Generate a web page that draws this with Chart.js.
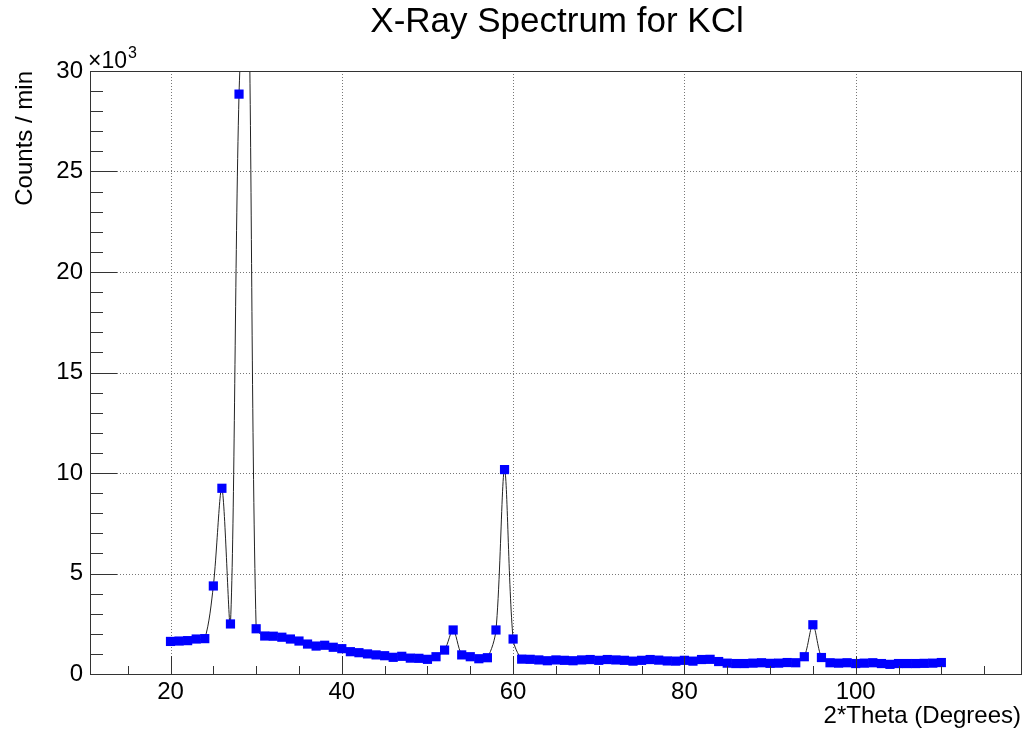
<!DOCTYPE html>
<html>
<head>
<meta charset="utf-8">
<script src="https://cdn.jsdelivr.net/npm/chart.js@4"></script>
<style>
  body { margin: 0; background: #fff; }
  #wrap { width: 1035px; height: 729px; }
</style>
</head>
<body>
<div id="wrap"><canvas id="xrd_chart"></canvas></div>
<script>
// 2*theta angle (degrees)
const twoTheta = [
  20, 21, 22, 23, 24, 25, 26, 27, 28, 29,
  30, 31, 32, 33, 34, 35, 36, 37, 38, 39,
  40, 41, 42, 43, 44, 45, 46, 47, 48, 49,
  50, 51, 52, 53, 54, 55, 56, 57, 58, 59,
  60, 61, 62, 63, 64, 65, 66, 67, 68, 69,
  70, 71, 72, 73, 74, 75, 76, 77, 78, 79,
  80, 81, 82, 83, 84, 85, 86, 87, 88, 89,
  90, 91, 92, 93, 94, 95, 96, 97, 98, 99,
  100, 101, 102, 103, 104, 105, 106, 107, 108, 109,
  110
];
// counts per minute (29 is off the top of the plot)
const counts = [
  1620, 1640, 1660, 1740, 1760, 4380, 9240, 2490, 28850, 36000,
  2250, 1890, 1880, 1830, 1740, 1640, 1490, 1390, 1430, 1330,
  1260, 1110, 1060, 1000, 950, 910, 830, 880, 790, 780,
  730, 860, 1190, 2190, 950, 860, 760, 810, 2190, 10170,
  1740, 740, 730, 700, 660, 700, 680, 660, 700, 720,
  680, 720, 700, 680, 640, 680, 720, 690, 650, 640,
  680, 640, 720, 730, 620, 540, 520, 520, 540, 560,
  530, 540, 570, 560, 860, 2450, 820, 560, 540, 560,
  520, 540, 560, 520, 480, 520, 520, 520, 530, 540,
  570
];
const xTicks = [20, 40, 60, 80, 100];
const yTicks = [0, 5000, 10000, 15000, 20000, 25000, 30000];

const FONT = "'Liberation Sans', Arial, Helvetica, sans-serif";

// ROOT-like frame, dotted grid, inner ticks and titles
const rootFrame = {
  id: 'rootFrame',
  beforeDatasetsDraw(chart) {
    const { ctx, chartArea: a, scales } = chart;
    ctx.save();
    ctx.strokeStyle = '#777';
    ctx.lineWidth = 1;
    ctx.setLineDash([1, 2]);
    xTicks.forEach(v => {
      const x = Math.round(scales.x.getPixelForValue(v)) + 0.5;
      ctx.beginPath(); ctx.moveTo(x, a.top); ctx.lineTo(x, a.bottom); ctx.stroke();
    });
    yTicks.slice(1, -1).forEach(v => {
      const y = Math.round(scales.y.getPixelForValue(v)) + 0.5;
      ctx.beginPath(); ctx.moveTo(a.left, y); ctx.lineTo(a.right, y); ctx.stroke();
    });
    ctx.restore();
  },
  afterDatasetsDraw(chart) {
    const { ctx, chartArea: a, scales } = chart;
    ctx.save();
    ctx.strokeStyle = '#333';
    ctx.lineWidth = 1;
    ctx.strokeRect(Math.round(a.left) + 0.5, Math.round(a.top) + 0.5,
      Math.round(a.right - a.left), Math.round(a.bottom - a.top));

    // y ticks every 1000, long ones every 5000
    for (let v = 0; v <= 30000; v += 1000) {
      const y = Math.round(scales.y.getPixelForValue(v)) + 0.5;
      const len = v % 5000 === 0 ? 27 : 13;
      ctx.beginPath(); ctx.moveTo(a.left, y); ctx.lineTo(a.left + len, y); ctx.stroke();
    }
    // x ticks every 5, long ones every 20
    for (let v = 15; v <= 115; v += 5) {
      const x = Math.round(scales.x.getPixelForValue(v)) + 0.5;
      const len = v % 20 === 0 ? 18 : 8;
      ctx.beginPath(); ctx.moveTo(x, a.bottom); ctx.lineTo(x, a.bottom - len); ctx.stroke();
    }

    ctx.fillStyle = '#000';
    // title
    ctx.font = '35px ' + FONT;
    ctx.textAlign = 'center';
    ctx.textBaseline = 'middle';
    ctx.fillText('X-Ray Spectrum for KCl', 557, 22);

    // x axis title
    ctx.font = '24px ' + FONT;
    ctx.textAlign = 'right';
    ctx.fillText('2*Theta (Degrees)', a.right, 716);

    // y axis title
    ctx.save();
    ctx.translate(25, a.top);
    ctx.rotate(-Math.PI / 2);
    ctx.textAlign = 'right';
    ctx.fillText('Counts / min', 0, 0);
    ctx.restore();

    // exponent label
    ctx.textAlign = 'left';
    ctx.textBaseline = 'alphabetic';
    ctx.font = '23px ' + FONT;
    ctx.fillText('\u00d710', a.left - 2, a.top - 3);
    const w = ctx.measureText('\u00d710').width;
    ctx.font = '16px ' + FONT;
    ctx.fillText('3', a.left - 2 + w + 1, a.top - 13);
    ctx.restore();
  }
};

const ctx = document.getElementById('xrd_chart').getContext('2d');

const xrd_chart = new Chart(ctx, {
  type: 'line',
  data: {
    datasets: [{
      label: 'KCl',
      data: twoTheta.map((t, i) => ({ x: t, y: counts[i] })),
      borderColor: '#222',
      borderWidth: 1,
      tension: 0.3,
      pointStyle: 'rect',
      pointRadius: 6.5,
      pointBorderWidth: 0,
      pointBackgroundColor: '#0000ff',
      pointHoverRadius: 6.5,
      fill: false
    }]
  },
  options: {
    responsive: true,
    maintainAspectRatio: false,
    animation: false,
    elements: { line: { capBezierPoints: false } },
    layout: {
      padding: { top: 71, right: 14, bottom: 0, left: 0 }
    },
    plugins: {
      legend: { display: false },
      title: { display: false },
      tooltip: { enabled: false }
    },
    scales: {
      x: {
        type: 'linear',
        min: 10.6,
        max: 119.3,
        afterBuildTicks: (scale) => { scale.ticks = xTicks.map(v => ({ value: v })); },
        afterFit: (scale) => { scale.height = 55; },
        grid: { display: false, drawTicks: false, tickLength: 0 },
        border: { display: false },
        ticks: {
          color: '#000',
          padding: 4,
          maxRotation: 0,
          font: { family: FONT, size: 24 }
        }
      },
      y: {
        type: 'linear',
        min: 0,
        max: 30000,
        afterBuildTicks: (scale) => { scale.ticks = yTicks.map(v => ({ value: v })); },
        afterFit: (scale) => { scale.width = 90; },
        grid: { display: false, drawTicks: false, tickLength: 0 },
        border: { display: false },
        ticks: {
          color: '#000',
          padding: 7,
          font: { family: FONT, size: 24 },
          callback: (v) => v / 1000
        }
      }
    }
  },
  plugins: [rootFrame]
});
</script>
</body>
</html>
